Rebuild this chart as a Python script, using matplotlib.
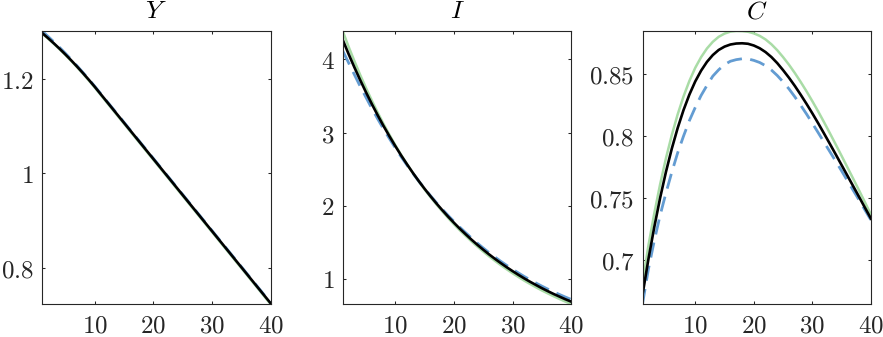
import numpy as np
import matplotlib
matplotlib.use("Agg")
import matplotlib.pyplot as plt
from matplotlib.ticker import FuncFormatter

# periods
t = np.arange(1, 41)

# output Y
y_black = [1.2980, 1.2873, 1.2761, 1.2644, 1.2522, 1.2395, 1.2263, 1.2126, 1.1984, 1.1837,
           1.1684, 1.1531, 1.1378, 1.1225, 1.1072, 1.0919, 1.0766, 1.0613, 1.0460, 1.0307,
           1.0154, 1.0001, 0.9848, 0.9695, 0.9542, 0.9389, 0.9236, 0.9083, 0.8930, 0.8777,
           0.8624, 0.8471, 0.8318, 0.8165, 0.8012, 0.7859, 0.7706, 0.7553, 0.7400, 0.7247]
y_blue = [1.3020, 1.2908, 1.2792, 1.2671, 1.2545, 1.2414, 1.2278, 1.2138, 1.1995, 1.1847,
          1.1694, 1.1541, 1.1388, 1.1235, 1.1082, 1.0929, 1.0776, 1.0623, 1.0470, 1.0317,
          1.0164, 1.0011, 0.9858, 0.9705, 0.9552, 0.9399, 0.9246, 0.9093, 0.8940, 0.8787,
          0.8634, 0.8481, 0.8328, 0.8175, 0.8022, 0.7869, 0.7716, 0.7563, 0.7410, 0.7255]
y_green = [1.2970, 1.2862, 1.2750, 1.2632, 1.2510, 1.2382, 1.2250, 1.2112, 1.1969, 1.1821,
           1.1667, 1.1513, 1.1359, 1.1206, 1.1053, 1.0900, 1.0747, 1.0594, 1.0441, 1.0288,
           1.0135, 0.9982, 0.9829, 0.9676, 0.9523, 0.9370, 0.9217, 0.9064, 0.8911, 0.8758,
           0.8605, 0.8452, 0.8299, 0.8146, 0.7993, 0.7840, 0.7687, 0.7534, 0.7381, 0.7228]

# investment I
i_black = [4.268, 4.075, 3.891, 3.715, 3.547, 3.386, 3.233, 3.086, 2.947, 2.813,
           2.685, 2.564, 2.447, 2.336, 2.230, 2.129, 2.032, 1.940, 1.851, 1.767,
           1.686, 1.610, 1.536, 1.466, 1.399, 1.335, 1.274, 1.216, 1.160, 1.107,
           1.056, 1.007, 0.961, 0.917, 0.874, 0.834, 0.795, 0.759, 0.723, 0.690]
i_blue = [4.118, 3.955, 3.791, 3.630, 3.477, 3.326, 3.183, 3.046, 2.915, 2.788,
          2.667, 2.552, 2.441, 2.335, 2.233, 2.136, 2.042, 1.953, 1.867, 1.785,
          1.706, 1.631, 1.558, 1.488, 1.422, 1.358, 1.298, 1.240, 1.185, 1.132,
          1.082, 1.033, 0.988, 0.944, 0.902, 0.862, 0.824, 0.788, 0.753, 0.720]
i_green = [4.388, 4.175, 3.976, 3.785, 3.605, 3.433, 3.270, 3.114, 2.967, 2.826,
           2.692, 2.566, 2.445, 2.330, 2.221, 2.117, 2.018, 1.924, 1.833, 1.747,
           1.665, 1.588, 1.513, 1.442, 1.374, 1.309, 1.247, 1.188, 1.132, 1.078,
           1.027, 0.977, 0.931, 0.886, 0.843, 0.803, 0.764, 0.727, 0.691, 0.658]

# consumption C
c_black = [0.6718, 0.7004, 0.7263, 0.7499, 0.7710, 0.7898, 0.8064, 0.8209, 0.8334, 0.8440,
           0.8527, 0.8598, 0.8653, 0.8694, 0.8721, 0.8738, 0.8746, 0.8748, 0.8744, 0.8730,
           0.8708, 0.8677, 0.8637, 0.8588, 0.8531, 0.8470, 0.8404, 0.8333, 0.8259, 0.8182,
           0.8102, 0.8019, 0.7935, 0.7850, 0.7764, 0.7678, 0.7592, 0.7506, 0.7419, 0.7333]
c_blue = [0.6645, 0.6924, 0.7153, 0.7359, 0.7540, 0.7708, 0.7864, 0.7999, 0.8124, 0.8230,
          0.8327, 0.8408, 0.8483, 0.8534, 0.8576, 0.8603, 0.8616, 0.8623, 0.8622, 0.8610,
          0.8593, 0.8567, 0.8532, 0.8488, 0.8436, 0.8380, 0.8316, 0.8248, 0.8177, 0.8102,
          0.8026, 0.7949, 0.7872, 0.7795, 0.7717, 0.7638, 0.7559, 0.7481, 0.7401, 0.7321]
c_green = [0.6808, 0.7114, 0.7373, 0.7609, 0.7820, 0.8008, 0.8174, 0.8319, 0.8444, 0.8550,
           0.8636, 0.8706, 0.8760, 0.8800, 0.8826, 0.8842, 0.8847, 0.8846, 0.8841, 0.8828,
           0.8808, 0.8779, 0.8740, 0.8692, 0.8636, 0.8575, 0.8508, 0.8436, 0.8360, 0.8280,
           0.8197, 0.8110, 0.8021, 0.7930, 0.7838, 0.7745, 0.7652, 0.7558, 0.7462, 0.7365]

titles = ["Y", "I", "C"]
yticks = [[0.8, 1, 1.2], [1, 2, 3, 4], [0.7, 0.75, 0.8, 0.85]]
xticks = [10, 20, 30, 40]

plt.rcParams["mathtext.fontset"] = "cm"
plt.rcParams["font.size"] = 18

fig = plt.figure(figsize=(8.83, 3.37), dpi=100)
lefts = [42 / 883, 342.7 / 883, 642.5 / 883]
width = 228.5 / 883
bottom, height = 33 / 337, 273 / 337

series = [(y_black, y_blue, y_green), (i_black, i_blue, i_green), (c_black, c_blue, c_green)]
fmt = FuncFormatter(lambda v, p: "$%g$" % v)
edge = "#262626"

for k, (blk, blu, grn) in enumerate(series):
    ax = fig.add_axes([lefts[k], bottom, width, height])
    ax.plot(t, grn, color="#a9dca6", lw=1.8)
    ax.plot(t, blu, color="#639cd2", lw=2.0, dashes=(5.5, 3.0))
    ax.plot(t, blk, color="black", lw=1.9)
    ax.set_xlim(1, 40)
    allv = np.concatenate([blk, blu, grn])
    ax.set_ylim(allv.min(), allv.max())
    ax.set_xticks(xticks)
    ax.set_yticks(yticks[k])
    ax.xaxis.set_major_formatter(fmt)
    ax.yaxis.set_major_formatter(fmt)
    ax.tick_params(direction="in", top=True, right=True, length=2.5, width=0.75,
                   color=edge, labelcolor=edge, labelsize=18)
    ax.tick_params(axis="x", pad=7)
    ax.tick_params(axis="y", pad=6)
    for s in ax.spines.values():
        s.set_color(edge)
        s.set_linewidth(0.8)
    ax.set_title("$%s$" % titles[k], fontsize=18.5, pad=9)

fig.savefig("out.png", dpi=100)
